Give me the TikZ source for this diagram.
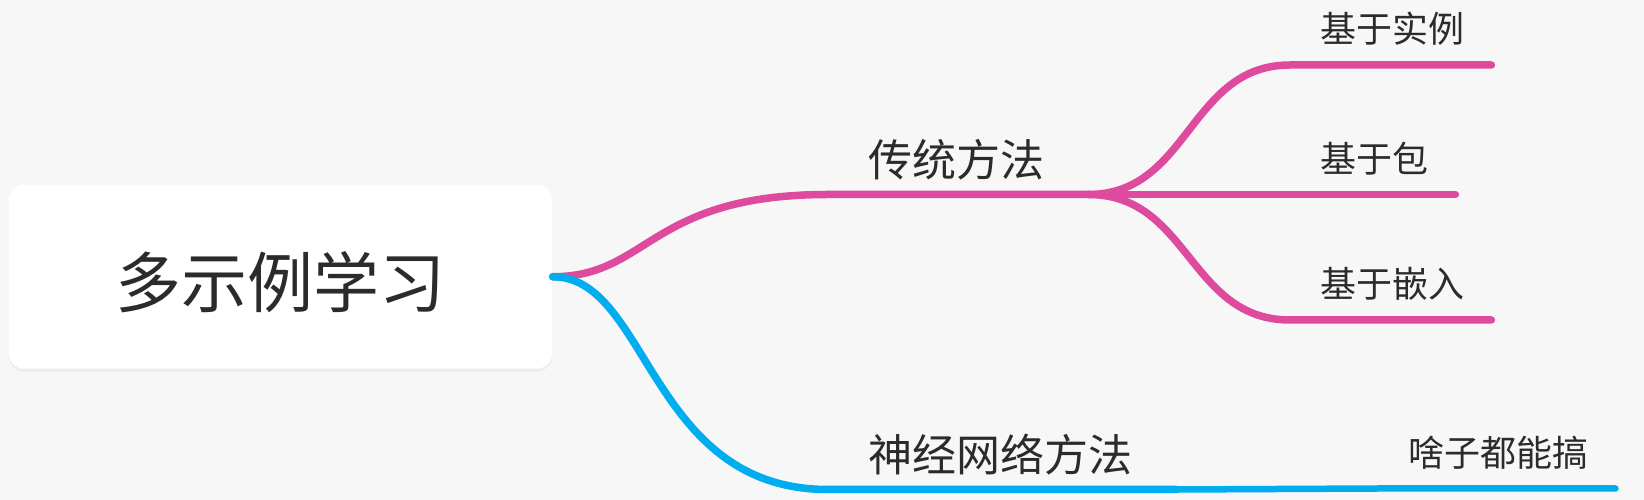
\documentclass[tikz,border=0pt]{standalone}
\usepackage{fontspec}
\setmainfont{Noto Sans CJK SC}
\usetikzlibrary{shadows}
\definecolor{bgGray}{HTML}{F7F7F7}
\definecolor{mapPink}{HTML}{DD4A9E}
\definecolor{mapBlue}{HTML}{00ADEF}
\definecolor{mapText}{HTML}{2B2B2B}

\begin{document}
\begin{tikzpicture}[
  x=1pt, y=1pt,
  every node/.style = {text=mapText},
  root/.style = {fill=white, rounded corners=16pt, minimum width=544pt, minimum height=184pt,
    font=\fontsize{66}{66}\selectfont, text height=67pt, text depth=5pt,
    drop shadow={shadow xshift=0pt, shadow yshift=-3pt, opacity=0.08}},
  topic/.style = {anchor=south west, inner xsep=0pt, inner ysep=18pt, text depth=0pt,
    font=\fontsize{44}{44}\selectfont,
    execute at begin node=\hspace{40pt}, execute at end node=\hspace{44pt}},
  leaf/.style = {anchor=south west, inner xsep=0pt, inner ysep=22pt, text depth=0pt,
    font=\fontsize{36}{36}\selectfont,
    execute at begin node=\hspace{30pt}, execute at end node=\hspace{27pt}},
  branch/.style = {line width=7.5pt, line cap=round},
  twig/.style = {line width=7.5pt, line cap=round}
  ]
	\path[use as bounding box, fill=bgGray] (0,0) rectangle (1644,500);

	\node[root] (root) at (280.5,223.25) {多示例学习};

	\node[topic] (trad) at (828,305.5) {传统方法};
	\node[topic] (nn)   at (828,10.5)  {神经网络方法};

	\node[leaf] (inst) at (1290,435)   {基于实例};
	\node[leaf] (bag)  at (1290,305.5) {基于包};
	\node[leaf] (emb)  at (1290,180)   {基于嵌入};
	\node[leaf] (any)  at (1378,11.5)  {啥子都能搞};

	\draw[branch, mapPink] (root.east) .. controls +(96,0) and +(-179,0) .. (trad.south west) -- (trad.south east);
	\draw[branch, mapBlue] (root.east) .. controls +(96,0) and +(-179,0) .. (nn.south west) -- (nn.south east);

	\draw[twig, mapPink] (trad.south east) .. controls +(101,0) and +(-101,0) .. (inst.south west) -- (inst.south east);
	\draw[twig, mapPink] (trad.south east) -- (bag.south west) -- (bag.south east);
	\draw[twig, mapPink] (trad.south east) .. controls +(101,0) and +(-101,0) .. (emb.south west) -- (emb.south east);
	\draw[twig, mapBlue, line width=6.5pt] (nn.south east) -- (any.south west) -- (any.south east);

\end{tikzpicture}
\end{document}
